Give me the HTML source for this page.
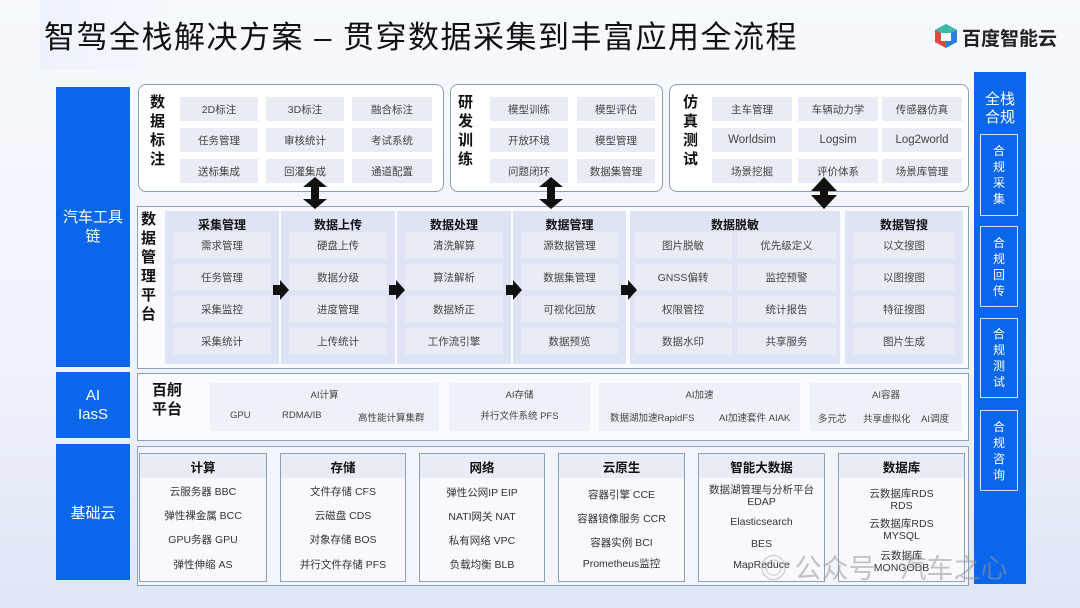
<!DOCTYPE html>
<html><head><meta charset="utf-8"><style>
*{margin:0;padding:0;box-sizing:border-box}
body{width:1080px;height:608px;overflow:hidden;position:relative;font-family:"Liberation Sans","Noto Sans CJK SC",sans-serif;color:#333;background:linear-gradient(180deg,#f7f9fd 0%,#eef2fa 60%,#dfe6f5 100%)}
.a{position:absolute}
.c{position:absolute;background:#e9ecf5;font-size:10.5px;color:#444;display:flex;align-items:center;justify-content:center;text-align:center}
.box{position:absolute;border:1.5px solid #8aa0b8;background:#fff;border-radius:8px}
.sq{position:absolute;border:1.5px solid #8aa0b8;background:#f9fbfe}
.blue{position:absolute;background:#0a66ea;color:#fff;display:flex;align-items:center;justify-content:center;text-align:center}
.vl{position:absolute;font-weight:bold;font-size:15px;line-height:19px;width:18px;color:#111}
.col{position:absolute;background:#dfe3f6}
.h{position:absolute;font-weight:bold;font-size:12px;color:#111;text-align:center}
.arr{position:absolute;width:0;height:0;border-top:10px solid transparent;border-bottom:10px solid transparent;border-left:9px solid #111}
.ab{position:absolute;width:7px;height:10px;background:#111}
.g{position:absolute;background:#eef1f8;font-size:9.5px;color:#444}
.bc{position:absolute;border:1.5px solid #8aa0b8;background:#f7f9fd}
.bc .hd{height:24px;background:#e8ecf4;font-weight:bold;font-size:12.5px;color:#111;display:flex;align-items:center;justify-content:center}
.bc .it{position:absolute;left:0;right:0;text-align:center;font-size:10.5px;color:#333;line-height:12px}
.rb{position:absolute;border:1px solid #cfe0ff;left:980px;width:38px;color:#fff;font-size:12px;line-height:16px;display:flex;align-items:center;justify-content:center;text-align:center}
</style></head><body>
<div class="a" style="left:40px;top:0;width:130px;height:70px;background:linear-gradient(90deg,#e6eefc,#f5f8fd);opacity:.6"></div>
<div class="a" style="left:44px;top:12px;font-size:31px;color:#111;letter-spacing:1.5px;white-space:nowrap">智驾全栈解决方案 – 贯穿数据采集到丰富应用全流程</div>
<svg class="a" style="left:933px;top:23px" width="26" height="26" viewBox="0 0 26 26"><polygon points="13,1 24,7 24,19 13,25 2,19 2,7" fill="#2a7de1"/><polygon points="13,1 24,7 13,13 2,7" fill="#3cb9a5"/><polygon points="2,7 13,13 13,25 2,19" fill="#e04a3a"/><polygon points="8,10 18,10 18,18 8,18" fill="#fff"/></svg>
<div class="a" style="left:962px;top:24px;font-size:19px;font-weight:bold;color:#222">百度智能云</div>

<div class="blue" style="left:56px;top:87px;width:74px;height:280px;font-size:15px;line-height:19px">汽车工具<br>链</div>
<div class="blue" style="left:56px;top:372px;width:74px;height:66px;font-size:15px;line-height:19px">AI<br>IasS</div>
<div class="blue" style="left:56px;top:444px;width:74px;height:136px;font-size:15px">基础云</div>

<div class="blue" style="left:974px;top:72px;width:52px;height:512px;align-items:flex-start"></div>
<div class="a" style="left:974px;top:91px;width:52px;text-align:center;color:#fff;font-size:15px;line-height:18px">全栈<br>合规</div>
<div class="rb" style="top:134px;height:82px">合<br>规<br>采<br>集</div>
<div class="rb" style="top:226px;height:81px">合<br>规<br>回<br>传</div>
<div class="rb" style="top:318px;height:80px">合<br>规<br>测<br>试</div>
<div class="rb" style="top:410px;height:81px">合<br>规<br>咨<br>询</div>

<div class="box" style="left:138px;top:84px;width:306px;height:108px"></div>
<div class="vl" style="left:150px;top:93px">数<br>据<br>标<br>注</div>
<div class="c" style="left:180px;top:97px;width:78px;height:24px">2D标注</div>
<div class="c" style="left:266px;top:97px;width:78px;height:24px">3D标注</div>
<div class="c" style="left:352px;top:97px;width:80px;height:24px">融合标注</div>
<div class="c" style="left:180px;top:128px;width:78px;height:24px">任务管理</div>
<div class="c" style="left:266px;top:128px;width:78px;height:24px">审核统计</div>
<div class="c" style="left:352px;top:128px;width:80px;height:24px">考试系统</div>
<div class="c" style="left:180px;top:159px;width:78px;height:24px">送标集成</div>
<div class="c" style="left:266px;top:159px;width:78px;height:24px">回灌集成</div>
<div class="c" style="left:352px;top:159px;width:80px;height:24px">通道配置</div>

<div class="box" style="left:450px;top:84px;width:213px;height:108px"></div>
<div class="vl" style="left:458px;top:93px">研<br>发<br>训<br>练</div>
<div class="c" style="left:490px;top:97px;width:78px;height:24px">模型训练</div>
<div class="c" style="left:577px;top:97px;width:78px;height:24px">模型评估</div>
<div class="c" style="left:490px;top:128px;width:78px;height:24px">开放环境</div>
<div class="c" style="left:577px;top:128px;width:78px;height:24px">模型管理</div>
<div class="c" style="left:490px;top:159px;width:78px;height:24px">问题闭环</div>
<div class="c" style="left:577px;top:159px;width:78px;height:24px">数据集管理</div>

<div class="box" style="left:669px;top:84px;width:300px;height:108px"></div>
<div class="vl" style="left:683px;top:93px">仿<br>真<br>测<br>试</div>
<div class="c" style="left:712px;top:97px;width:80px;height:24px">主车管理</div>
<div class="c" style="left:798px;top:97px;width:80px;height:24px">车辆动力学</div>
<div class="c" style="left:882px;top:97px;width:80px;height:24px">传感器仿真</div>
<div class="c" style="left:712px;top:128px;width:80px;height:24px;font-size:11.5px">Worldsim</div>
<div class="c" style="left:798px;top:128px;width:80px;height:24px;font-size:11.5px">Logsim</div>
<div class="c" style="left:882px;top:128px;width:80px;height:24px;font-size:11.5px">Log2world</div>
<div class="c" style="left:712px;top:159px;width:80px;height:24px">场景挖掘</div>
<div class="c" style="left:798px;top:159px;width:80px;height:24px">评价体系</div>
<div class="c" style="left:882px;top:159px;width:80px;height:24px">场景库管理</div>

<div class="sq" style="left:137px;top:206px;width:832px;height:163px"></div>
<div class="vl" style="left:141px;top:210px">数<br>据<br>管<br>理<br>平<br>台</div>

<div class="col" style="left:165px;top:211px;width:114px;height:153px"></div>
<div class="col" style="left:281px;top:211px;width:114px;height:153px"></div>
<div class="col" style="left:397px;top:211px;width:114px;height:153px"></div>
<div class="col" style="left:513px;top:211px;width:113px;height:153px"></div>
<div class="col" style="left:630px;top:211px;width:210px;height:153px"></div>
<div class="col" style="left:845px;top:211px;width:118px;height:153px"></div>
<div class="h" style="left:165px;top:216px;width:114px">采集管理</div>
<div class="h" style="left:281px;top:216px;width:114px">数据上传</div>
<div class="h" style="left:397px;top:216px;width:114px">数据处理</div>
<div class="h" style="left:513px;top:216px;width:113px">数据管理</div>
<div class="h" style="left:630px;top:216px;width:210px">数据脱敏</div>
<div class="h" style="left:845px;top:216px;width:118px">数据智搜</div>

<div class="c" style="left:173px;top:232px;width:98px;height:26px">需求管理</div>
<div class="c" style="left:173px;top:264px;width:98px;height:26px">任务管理</div>
<div class="c" style="left:173px;top:296px;width:98px;height:26px">采集监控</div>
<div class="c" style="left:173px;top:328px;width:98px;height:26px">采集统计</div>
<div class="c" style="left:289px;top:232px;width:98px;height:26px">硬盘上传</div>
<div class="c" style="left:289px;top:264px;width:98px;height:26px">数据分级</div>
<div class="c" style="left:289px;top:296px;width:98px;height:26px">进度管理</div>
<div class="c" style="left:289px;top:328px;width:98px;height:26px">上传统计</div>
<div class="c" style="left:405px;top:232px;width:98px;height:26px">清洗解算</div>
<div class="c" style="left:405px;top:264px;width:98px;height:26px">算法解析</div>
<div class="c" style="left:405px;top:296px;width:98px;height:26px">数据矫正</div>
<div class="c" style="left:405px;top:328px;width:98px;height:26px">工作流引擎</div>
<div class="c" style="left:521px;top:232px;width:97px;height:26px">源数据管理</div>
<div class="c" style="left:521px;top:264px;width:97px;height:26px">数据集管理</div>
<div class="c" style="left:521px;top:296px;width:97px;height:26px">可视化回放</div>
<div class="c" style="left:521px;top:328px;width:97px;height:26px">数据预览</div>
<div class="c" style="left:634px;top:232px;width:98px;height:26px">图片脱敏</div>
<div class="c" style="left:737px;top:232px;width:99px;height:26px">优先级定义</div>
<div class="c" style="left:634px;top:264px;width:98px;height:26px">GNSS偏转</div>
<div class="c" style="left:737px;top:264px;width:99px;height:26px">监控预警</div>
<div class="c" style="left:634px;top:296px;width:98px;height:26px">权限管控</div>
<div class="c" style="left:737px;top:296px;width:99px;height:26px">统计报告</div>
<div class="c" style="left:634px;top:328px;width:98px;height:26px">数据水印</div>
<div class="c" style="left:737px;top:328px;width:99px;height:26px">共享服务</div>
<div class="c" style="left:853px;top:232px;width:102px;height:26px">以文搜图</div>
<div class="c" style="left:853px;top:264px;width:102px;height:26px">以图搜图</div>
<div class="c" style="left:853px;top:296px;width:102px;height:26px">特征搜图</div>
<div class="c" style="left:853px;top:328px;width:102px;height:26px">图片生成</div>

<div class="ab" style="left:273px;top:285px"></div><div class="arr" style="left:280px;top:280px"></div>
<div class="ab" style="left:389px;top:285px"></div><div class="arr" style="left:396px;top:280px"></div>
<div class="ab" style="left:506px;top:285px"></div><div class="arr" style="left:513px;top:280px"></div>
<div class="ab" style="left:621px;top:285px"></div><div class="arr" style="left:628px;top:280px"></div>

<svg class="a" style="left:303px;top:177px" width="24" height="32" viewBox="0 0 24 32"><polygon points="12,0 24,10 16,10 16,22 24,22 12,32 0,22 8,22 8,10 0,10" fill="#111"/></svg>
<svg class="a" style="left:539px;top:177px" width="24" height="32" viewBox="0 0 24 32"><polygon points="12,0 24,10 16,10 16,22 24,22 12,32 0,22 8,22 8,10 0,10" fill="#111"/></svg>
<svg class="a" style="left:811px;top:177px" width="26" height="32" viewBox="0 0 26 32"><polygon points="13,0 26,14 17,14 17,18 26,18 13,32 0,18 9,18 9,14 0,14" fill="#111"/></svg>

<div class="sq" style="left:137px;top:373px;width:832px;height:68px"></div>
<div class="vl" style="left:152px;top:381px;width:34px;font-size:15px">百舸<br>平台</div>
<div class="g" style="left:210px;top:383px;width:229px;height:48px"><div class="a" style="top:4px;width:100%;text-align:center">AI计算</div><div class="a" style="top:27px;left:20px">GPU</div><div class="a" style="top:27px;left:72px">RDMA/IB</div><div class="a" style="top:27px;left:148px">高性能计算集群</div></div>
<div class="g" style="left:449px;top:383px;width:141px;height:48px"><div class="a" style="top:4px;width:100%;text-align:center">AI存储</div><div class="a" style="top:25px;width:100%;text-align:center">并行文件系统 PFS</div></div>
<div class="g" style="left:599px;top:383px;width:201px;height:48px"><div class="a" style="top:4px;width:100%;text-align:center">AI加速</div><div class="a" style="top:27px;left:11px">数据湖加速RapidFS</div><div class="a" style="top:27px;left:120px">AI加速套件 AIAK</div></div>
<div class="g" style="left:810px;top:383px;width:152px;height:48px"><div class="a" style="top:4px;width:100%;text-align:center">AI容器</div><div class="a" style="top:28px;left:8px">多元芯</div><div class="a" style="top:28px;left:53px">共享虚拟化</div><div class="a" style="top:28px;left:111px">AI调度</div></div>

<div class="sq" style="left:137px;top:446px;width:832px;height:140px;background:#f2f5fb"></div>
<div class="bc" style="left:139px;top:453px;width:128px;height:129px"><div class="hd">计算</div>
<div class="it" style="top:32px">云服务器 BBC</div><div class="it" style="top:56px">弹性裸金属 BCC</div><div class="it" style="top:80px">GPU务器 GPU</div><div class="it" style="top:105px">弹性伸缩 AS</div></div>
<div class="bc" style="left:280px;top:453px;width:126px;height:129px"><div class="hd">存储</div>
<div class="it" style="top:32px">文件存储 CFS</div><div class="it" style="top:56px">云磁盘 CDS</div><div class="it" style="top:80px">对象存储 BOS</div><div class="it" style="top:105px">并行文件存储 PFS</div></div>
<div class="bc" style="left:419px;top:453px;width:126px;height:129px"><div class="hd">网络</div>
<div class="it" style="top:33px">弹性公网IP EIP</div><div class="it" style="top:57px">NATI网关 NAT</div><div class="it" style="top:81px">私有网络 VPC</div><div class="it" style="top:105px">负载均衡 BLB</div></div>
<div class="bc" style="left:558px;top:453px;width:127px;height:129px"><div class="hd">云原生</div>
<div class="it" style="top:35px">容器引擎 CCE</div><div class="it" style="top:59px">容器镜像服务 CCR</div><div class="it" style="top:83px">容器实例 BCI</div><div class="it" style="top:104px">Prometheus监控</div></div>
<div class="bc" style="left:698px;top:453px;width:127px;height:129px"><div class="hd">智能大数据</div>
<div class="it" style="top:30px">数据湖管理与分析平台<br>EDAP</div><div class="it" style="top:62px">Elasticsearch</div><div class="it" style="top:84px">BES</div><div class="it" style="top:105px">MapReduce</div></div>
<div class="bc" style="left:838px;top:453px;width:127px;height:129px"><div class="hd">数据库</div>
<div class="it" style="top:34px">云数据库RDS<br>RDS</div><div class="it" style="top:64px">云数据库RDS<br>MYSQL</div><div class="it" style="top:96px">云数据库<br>MONGODB</div></div>

<div class="a" style="left:760px;top:547px;font-size:27px;color:rgba(150,150,150,.55);white-space:nowrap">◎ 公众号 · 汽车之心</div>
</body></html>
